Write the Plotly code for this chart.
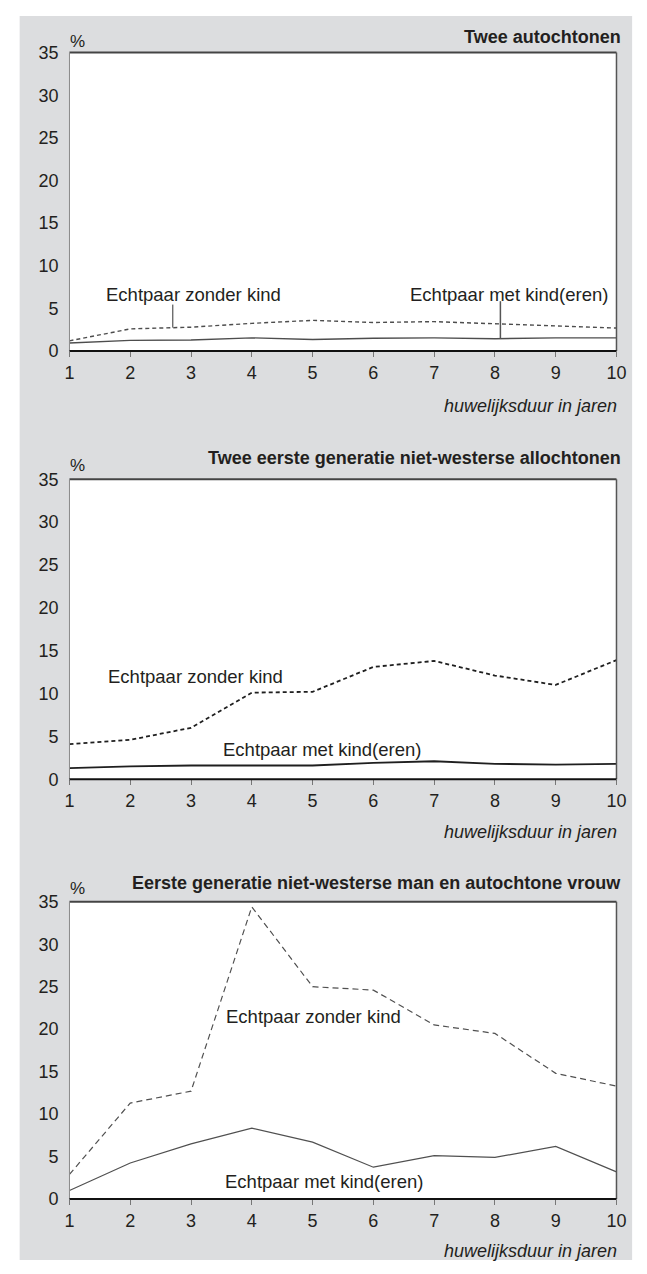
import plotly.graph_objects as go

# ---------------- data ----------------
years = [1, 2, 3, 4, 5, 6, 7, 8, 9, 10]
x_tick_labels = ["1", "2", "3", "4", "5", "6", "7", "8", "9", "10"]
y_tick_values = [0, 5, 10, 15, 20, 25, 30, 35]

panel_titles = [
    "Twee autochtonen",
    "Twee eerste generatie niet-westerse allochtonen",
    "Eerste generatie niet-westerse man en autochtone vrouw",
]

# Echtpaar zonder kind (dashed)
zonder_kind_1 = [1.2, 2.6, 2.8, 3.25, 3.6, 3.35, 3.45, 3.2, 2.9, 2.7]
zonder_kind_2 = [4.1, 4.6, 6.0, 10.1, 10.2, 13.1, 13.8, 12.1, 11.0, 13.9]
zonder_kind_3 = [2.9, 11.3, 12.7, 34.4, 25.0, 24.6, 20.5, 19.5, 14.8, 13.3]

# Echtpaar met kind(eren) (solid)
met_kind_1 = [0.95, 1.25, 1.3, 1.55, 1.35, 1.5, 1.55, 1.45, 1.55, 1.55]
met_kind_2 = [1.3, 1.5, 1.6, 1.6, 1.6, 1.9, 2.1, 1.8, 1.7, 1.8]
met_kind_3 = [1.0, 4.25, 6.5, 8.35, 6.7, 3.75, 5.1, 4.9, 6.2, 3.2]

label_zonder = "Echtpaar zonder kind"
label_met = "Echtpaar met kind(eren)"
x_axis_title = "huwelijksduur in jaren"

# ---------------- layout helpers ----------------
W, H = 647, 1274
FONT = "Liberation Sans, Arial, Helvetica, sans-serif"
TXT = "#231f20"
BG = "#dcdddf"

def px(x):
    return x / W

def py(y):
    return 1 - y / H

X0, X1 = 66, 626
panels = [  # (plot top px, plot bottom px)
    (43.3, 346.5),
    (476.7, 781.5),
    (906.0, 1208.0),
]
title_y = [27, 455, 887]
pct_y = [32, 463, 893]
xtitle_y = [402, 835, 1261]

line_styles = [
    dict(color="#4d4d4d", width=1.4, dash="4px,3px"),
    dict(color="#1f1f1f", width=1.8, dash="4px,3px"),
    dict(color="#505050", width=1.2, dash="6px,4px"),
]

series_z = [zonder_kind_1, zonder_kind_2, zonder_kind_3]
series_m = [met_kind_1, met_kind_2, met_kind_3]

fig = go.Figure()

# grey background (first, so it lies under everything)
fig.add_shape(type="rect", xref="paper", yref="paper",
              x0=px(15), x1=px(642), y0=py(1270), y1=py(6),
              fillcolor=BG, line=dict(width=0), layer="below")

for i in range(3):
    sfx = "" if i == 0 else str(i + 1)
    top, bot = panels[i]
    st = line_styles[i]
    fig.add_trace(go.Scatter(
        x=years, y=series_z[i], mode="lines", xaxis="x" + sfx, yaxis="y" + sfx,
        line=dict(color=st["color"], width=st["width"], dash=st["dash"]),
        showlegend=False, hoverinfo="skip"))
    fig.add_trace(go.Scatter(
        x=years, y=series_m[i], mode="lines", xaxis="x" + sfx, yaxis="y" + sfx,
        line=dict(color=st["color"], width=st["width"]),
        showlegend=False, hoverinfo="skip"))

    xa = dict(
        domain=[px(X0), px(X1)], range=[1, 10], anchor="y" + sfx,
        tickmode="array", tickvals=years, ticktext=x_tick_labels,
        ticks="outside", ticklen=5, tickwidth=1, tickcolor="#777777",
        showgrid=False, zeroline=False, showline=False,
        tickfont=dict(family=FONT, size=18, color=TXT),
        fixedrange=True,
    )
    ya = dict(
        domain=[py(bot), py(top)], range=[0, 35], anchor="x" + sfx,
        tickmode="array", tickvals=y_tick_values,
        ticks="", showgrid=False, zeroline=False, showline=False,
        tickfont=dict(family=FONT, size=18, color=TXT),
        ticklabelstandoff=10,
        fixedrange=True,
    )
    fig.layout["xaxis" + sfx] = xa
    fig.layout["yaxis" + sfx] = ya

    # white plotting area and frame
    fig.add_shape(type="rect", xref="paper", yref="paper",
                  x0=px(X0), x1=px(X1), y0=py(bot), y1=py(top),
                  fillcolor="white", line=dict(width=0), layer="below")
    fig.add_shape(type="line", xref="paper", yref="paper",
                  x0=px(X0), x1=px(X1), y0=py(top), y1=py(top),
                  line=dict(color="#444444", width=2))
    fig.add_shape(type="line", xref="paper", yref="paper",
                  x0=px(X1), x1=px(X1), y0=py(bot), y1=py(top),
                  line=dict(color="#555555", width=1.5))
    fig.add_shape(type="line", xref="paper", yref="paper",
                  x0=px(X0), x1=px(X0), y0=py(bot), y1=py(top),
                  line=dict(color="#8a8a8a", width=1))
    fig.add_shape(type="line", xref="paper", yref="paper",
                  x0=px(X0), x1=px(X1), y0=py(bot), y1=py(bot),
                  line=dict(color="#111111", width=2))

    # panel title
    fig.add_annotation(text="<b>" + panel_titles[i] + "</b>", xref="paper", yref="paper",
                       x=px(633), y=py(title_y[i]), xanchor="right", yanchor="middle",
                       showarrow=False, font=dict(family=FONT, size=18, color=TXT))
    # percent sign
    fig.add_annotation(text="%", xref="paper", yref="paper",
                       x=px(64), y=py(pct_y[i]), xanchor="left", yanchor="middle",
                       showarrow=False, font=dict(family=FONT, size=17, color=TXT))
    # x-axis title
    fig.add_annotation(text="<i>" + x_axis_title + "</i>", xref="paper", yref="paper",
                       x=px(629), y=py(xtitle_y[i]), xanchor="right", yanchor="middle",
                       showarrow=False, font=dict(family=FONT, size=18, color=TXT))

# series labels
series_labels = [
    (label_zonder, 101, 289), (label_met, 413, 289),
    (label_zonder, 103, 677), (label_met, 221, 751),
    (label_zonder, 224, 1023), (label_met, 223, 1190),
]
for text, lx, ly in series_labels:
    fig.add_annotation(text=text, xref="paper", yref="paper",
                       x=px(lx), y=py(ly), xanchor="left", yanchor="middle",
                       showarrow=False, font=dict(family=FONT, size=18.5, color=TXT))

# leader lines in panel 1 (data coordinates)
fig.add_shape(type="line", xref="x", yref="y", x0=2.7, x1=2.7, y0=2.75, y1=5.45,
              line=dict(color="#333333", width=1))
fig.add_shape(type="line", xref="x", yref="y", x0=8.09, x1=8.09, y0=1.45, y1=5.85,
              line=dict(color="#555555", width=1.5))

fig.update_layout(
    width=W, height=H,
    margin=dict(l=0, r=0, t=0, b=0),
    paper_bgcolor="white", plot_bgcolor="rgba(0,0,0,0)",
    showlegend=False,
)

fig.write_html(
    "out.html",
    config={"displayModeBar": False},
    post_script="document.body.style.margin='0';document.body.style.padding='0';document.body.style.overflow='hidden';",
)
